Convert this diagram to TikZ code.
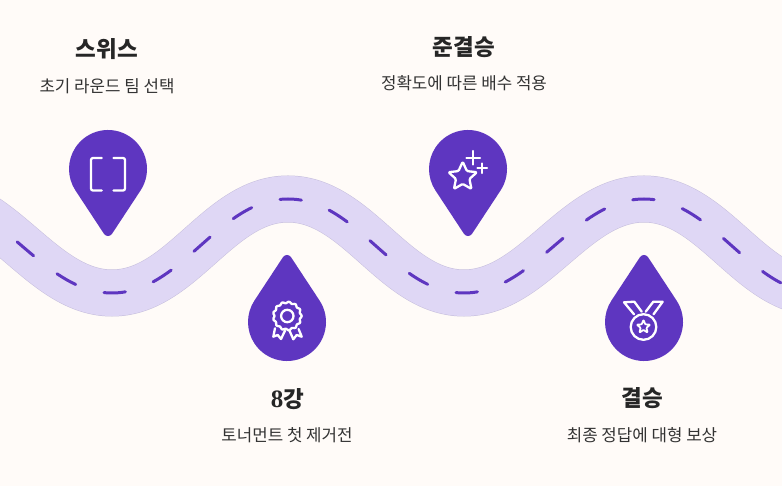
\documentclass[tikz,border=0pt]{standalone}
\usepackage{fontspec}
\setmainfont{Noto Sans CJK KR}
\newfontfamily\numfont{Liberation Serif}
\definecolor{paper}{HTML}{FFFBF8}
\definecolor{roadfill}{HTML}{DFD7F5}
\definecolor{roadedge}{HTML}{C6BEDD}
\definecolor{pinfill}{HTML}{5E36C0}
\definecolor{inktitle}{HTML}{262626}
\definecolor{inksub}{HTML}{333333}
\tikzset{
  stagetitle/.style={text=inktitle, font=\fontsize{22.5}{26}\selectfont\bfseries, inner sep=0pt},
  stagesub/.style={text=inksub, font=\fontsize{16.8}{20}\selectfont, inner sep=0pt},
  iconline/.style={draw=white, line width=2.3pt, line join=round, line cap=round},
  pics/pin/.style={code={
    \fill [pinfill] (32.6,21.4) arc[start angle=-33.3, end angle=213.3, radius=39pt]
      -- (-4.1,64.7) .. controls (-2.1,67.8) and (2.1,67.8) .. (4.1,64.7) -- cycle;
  }}
}
\newcommand{\roadpath}{(-68,199) .. controls (2,199) and (42,293) .. (112,293)
  .. controls (182,293) and (218,199) .. (288,199)
  .. controls (358,199) and (394,293) .. (464,293)
  .. controls (534,293) and (574,199) .. (644,199)
  .. controls (714,199) and (750,293) .. (820,293)}

\begin{document}
\begin{tikzpicture}[x=1pt, y=-1pt]
\useasboundingbox (0,0) rectangle (782,486);
\clip (0,0) rectangle (782,486);
\fill [paper] (0,0) rectangle (782,486);

% road
\draw [roadedge, line width=47pt] \roadpath;
\draw [roadfill, line width=46pt] \roadpath;
\draw [pinfill, line width=3pt, line cap=round, dash pattern=on 21.5pt off 29.6pt, dash phase=4.7pt] \roadpath;

% pins
\pic at (108,169) {pin};
\pic [yscale=-1] at (287,322) {pin};
\pic at (468,169) {pin};
\pic [yscale=-1] at (644,322) {pin};

% brackets
\draw [iconline, rounded corners=2pt] (101.7,158) -- (91,158) -- (91,190.5) -- (101.7,190.5);
\draw [iconline, rounded corners=2pt] (113.5,158) -- (125,158) -- (125,190.5) -- (113.5,190.5);

% rosette
\draw [iconline] plot [smooth cycle, samples=72, domain=5:360] ({287.3+13.6*cos(\x)+0.8*cos(13*\x)*cos(\x)}, {316+13.6*sin(\x)+0.8*cos(13*\x)*sin(\x)});
\draw [iconline] (287.3,316) circle (6.2pt);
\draw [iconline] (275,328.3) -- (273.3,336.7) -- (277.7,335) -- (281,339) -- (285,330.7);
\draw [iconline] (298.6,329) -- (301.7,336.7) -- (296.7,335) -- (293.3,339.3) -- (289.5,330.7);

% star with sparkles
\draw [iconline, rounded corners=1.2pt] (462.7,161.7) -- (466.9,171.1) -- (477,172.2) -- (469.4,179) -- (471.5,189) -- (462.7,183.9) -- (453.9,189) -- (456,179) -- (448.4,172.2) -- (458.5,171.1) -- cycle;
\draw [iconline] (473.3,151) -- (473.3,164.5) (466.5,157.7) -- (480,157.7);
\draw [iconline] (482.3,163.5) -- (482.3,173) (477.5,168.3) -- (487,168.3);

% medal
\draw [iconline] (634,314.3) -- (624,302.3) -- (634.3,301.7) -- (641.7,311.7);
\draw [iconline] (653.5,314.3) -- (662.7,301.7) -- (653.3,301.7) -- (645.7,311.7);
\draw [iconline] (643.5,327) circle (12.8pt);
\draw [iconline, line width=1.8pt, rounded corners=0.8pt] (643.5,319.8) -- (645.3,324.4) -- (650.2,324.7) -- (646.4,327.8) -- (647.6,332.6) -- (643.5,329.9) -- (639.4,332.6) -- (640.6,327.8) -- (636.8,324.7) -- (641.7,324.4) -- cycle;

% labels
\node [stagetitle] (swiss) at (107,49.5) {스위스};
\node [stagesub] (swisssub) at (107,86) {초기 라운드 팀 선택};
\node [stagetitle] (semi) at (464,47) {준결승};
\node [stagesub] (semisub) at (464,83) {정확도에 따른 배수 적용};
\node [stagetitle] (quarter) at (287.5,399) {{\numfont\fontsize{25}{26}\selectfont 8}강};
\node [stagesub] (quartersub) at (287,435) {토너먼트 첫 제거전};
\node [stagetitle] (final) at (642.5,398) {결승};
\node [stagesub] (finalsub) at (642,435) {최종 정답에 대형 보상};
\end{tikzpicture}
\end{document}
